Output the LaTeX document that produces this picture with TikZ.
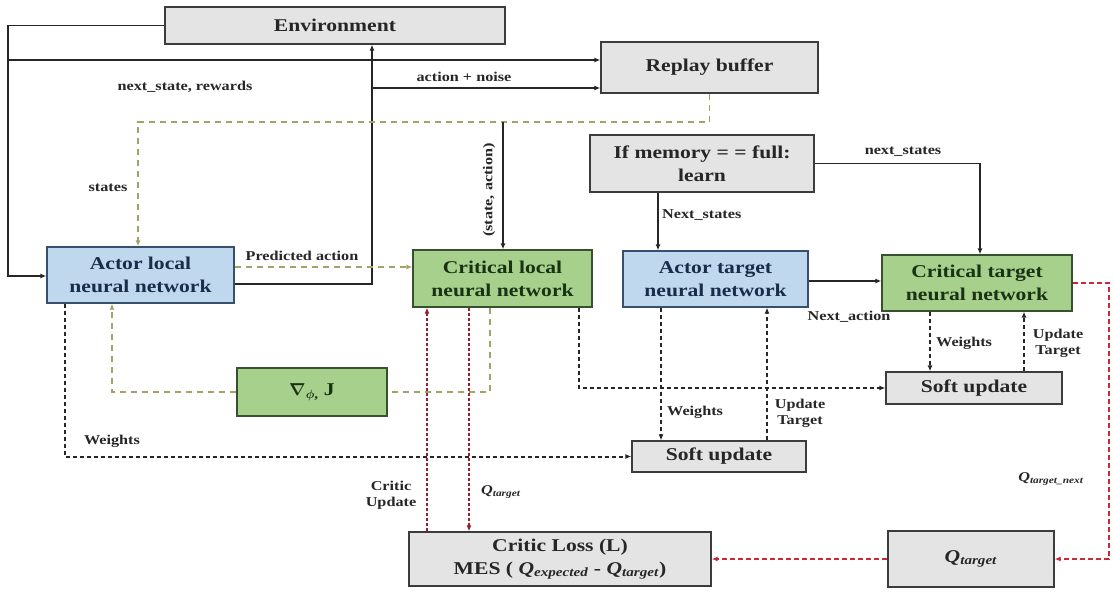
\documentclass[tikz,border=0pt]{standalone}
\usepackage{fontspec}
\usepackage{amsmath}
\setmainfont{Liberation Serif}[FakeStretch=1.2]
\usetikzlibrary{arrows.meta, positioning, calc}

\definecolor{boxgray}{RGB}{228,228,228}
\definecolor{boxblue}{RGB}{192,216,238}
\definecolor{boxgreen}{RGB}{168,208,141}
\definecolor{grayedge}{RGB}{60,60,60}
\definecolor{blueedge}{RGB}{55,80,110}
\definecolor{greenedge}{RGB}{55,80,45}
\definecolor{bluetext}{RGB}{25,45,75}
\definecolor{greentext}{RGB}{25,50,20}
\definecolor{khaki}{RGB}{165,162,105}
\definecolor{lossred}{RGB}{200,40,60}

\newcommand{\boxfont}{\fontsize{18}{23}\selectfont\bfseries}
\newcommand{\lblfont}{\fontsize{13.5}{16}\selectfont\bfseries}
\newcommand{\qsub}[1]{\textit{Q}\textsubscript{\textit{#1}}}

\tikzset{
    box/.style={line width=1.3pt, inner sep=2pt, align=center, font=\boxfont},
    graybox/.style={box, draw=grayedge, fill=boxgray, text=black!85},
    bluebox/.style={box, draw=blueedge, fill=boxblue, text=bluetext},
    greenbox/.style={box, draw=greenedge, fill=boxgreen, text=greentext},
    lbl/.style={font=\lblfont, text=black!85, align=center, inner sep=1pt},
    tip/.style={-{Latex[length=6pt,width=5pt]}},
    flow/.style={tip, draw=black!85, line width=1.3pt},
    wline/.style={tip, draw=black!85, line width=2pt, dash pattern=on 4pt off 3pt},
    gradline/.style={draw=khaki, line width=1.5pt, dash pattern=on 6pt off 5pt},
    redline/.style={tip, draw=lossred, line width=1.4pt, dash pattern=on 5pt off 3pt},
    lossline/.style={tip, draw=lossred!75!black, line width=1.8pt, dash pattern=on 3pt off 2pt}
}

\begin{document}
\begin{tikzpicture}[x=1pt, y=-1pt]
                \fill[white] (0,0) rectangle (1114,596);
                \useasboundingbox (0,0) rectangle (1114,596);

                % boxes
                \node[graybox, minimum width=340pt, minimum height=37pt] (env) at (335,25.5) {Environment};
                \node[graybox, minimum width=217pt, minimum height=51pt] (replay) at (709.5,67.5) {Replay buffer};
                \node[graybox, minimum width=224pt, minimum height=57pt] (memory) at (702,163.5) {If memory = = full:\\learn};
                \node[bluebox, minimum width=187pt, minimum height=56pt] (actorlocal) at (140.5,275) {Actor local\\neural network};
                \node[greenbox, minimum width=179pt, minimum height=57pt] (criticlocal) at (502.5,278.5) {Critical local\\neural network};
                \node[bluebox, minimum width=185pt, minimum height=56pt] (actortarget) at (715.5,279) {Actor target\\neural network};
                \node[greenbox, minimum width=190pt, minimum height=56pt] (critictarget) at (977,283) {Critical target\\neural network};
                \node[greenbox, minimum width=150pt, minimum height=48pt] (grad) at (312,392) {{\boldmath$\nabla$}\textsubscript{\boldmath$\phi$,} J};
                \node[graybox, minimum width=176pt, minimum height=32pt] (softR) at (974,388) {Soft update};
                \node[graybox, minimum width=174pt, minimum height=31pt] (softM) at (719,456.5) {Soft update};
                \node[graybox, minimum width=302pt, minimum height=54pt] (loss) at (560,559) {Critic Loss (L)\\MES ( \qsub{expected} - \qsub{target})};
                \node[graybox, minimum width=166pt, minimum height=56pt] (qtarget) at (971,559) {\qsub{target}};

                % taps on the feed lines
                \coordinate (tapnsr) at (8,60);
                \coordinate (tapact) at (372,88);
                \coordinate (tapsa) at (503,122);

                % environment loop
                \draw[flow] (env.west) -| (8,276) -- (actorlocal.west |- 0,276);
                \draw[flow] (tapnsr) -- (replay.west |- tapnsr);
                \draw[flow] (actorlocal.east |- 0,284) -| (env.south -| tapact);
                \draw[flow] (tapact) -- (replay.west |- tapact);
                \node[lbl] (lnsr) at (185,87) {next\_state, rewards};
                \node[lbl] (lact) at (464,77) {action + noise};

                % sampled states
                \draw[gradline, tip] (replay.south) -- (replay.south |- 0,122) -| (actorlocal.north -| 138,0);
                \node[lbl] (lstates) at (108,188) {states};
                \draw[flow] (tapsa) -- (criticlocal.north -| tapsa);
                \node[lbl, rotate=90] (lsa) at (489,190) {(state, action)};
                \draw[gradline, tip] (actorlocal.east |- 0,267) -- (criticlocal.west |- 0,267);
                \node[lbl] (lpred) at (302,256) {Predicted action};

                % learning step
                \draw[flow] (memory.south -| 658,0) -- (actortarget.north -| 658,0);
                \node[lbl, anchor=west] (lnext) at (661,215) {Next\_states};
                \draw[flow] (memory.east) -| (critictarget.north -| 980,0);
                \node[lbl] (lnexts) at (903,152) {next\_states};
                \draw[flow] (actortarget.east |- 0,281) -- (critictarget.west |- 0,281);
                \node[lbl] (lnact) at (849,317) {Next\_action};

                % policy gradient
                \draw[gradline] (criticlocal.south -| 490,0) |- (grad.east);
                \draw[gradline, tip] (grad.west) -| (actorlocal.south -| 112,0);

                % soft updates
                \draw[wline] (actorlocal.south -| 65,0) |- (softM.west);
                \node[lbl] (lw1) at (112,441) {Weights};
                \draw[wline] (criticlocal.south -| 579,0) |- (softR.west);
                \draw[wline] (actortarget.south -| 661,0) -- (softM.north -| 661,0);
                \node[lbl, anchor=west] (lw2) at (666,412) {Weights};
                \draw[wline] (softM.north -| 767,0) -- (actortarget.south -| 767,0);
                \node[lbl] (lu2) at (800,413) {Update\\Target};
                \draw[wline] (critictarget.south -| 930,0) -- (softR.north -| 930,0);
                \node[lbl, anchor=west] (lw3) at (935,343) {Weights};
                \draw[wline] (softR.north -| 1024,0) -- (critictarget.south -| 1024,0);
                \node[lbl] (lu3) at (1058,343) {Update\\Target};

                % critic loss
                \draw[redline] (critictarget.east) -- (1109,283) |- (qtarget.east);
                \node[lbl] (lqn) at (1051,479) {\qsub{target\_next}};
                \draw[redline] (qtarget.west) -- (loss.east);
                \draw[lossline] (loss.north -| 427,0) -- (criticlocal.south -| 427,0);
                \node[lbl] (lcu) at (391,495) {Critic\\Update};
                \draw[lossline] (criticlocal.south -| 469,0) -- (loss.north -| 469,0);
                \node[lbl, anchor=west] (lqt) at (480,492) {\qsub{target}};
            \end{tikzpicture}
\end{document}
